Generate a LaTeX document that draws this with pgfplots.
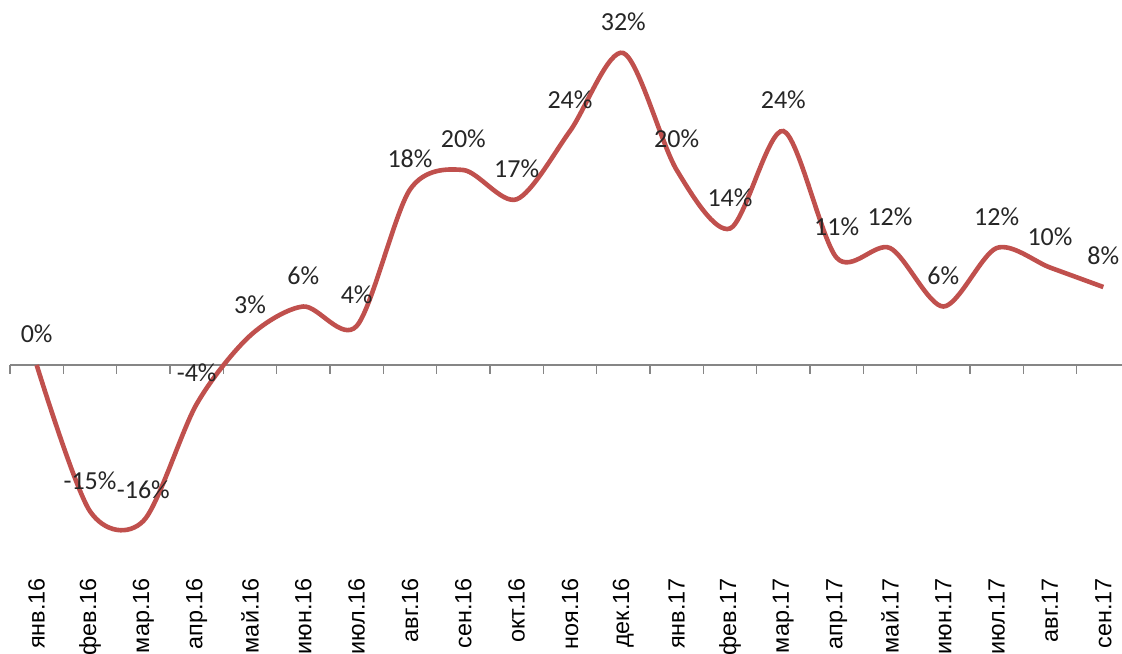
\documentclass[border=0pt]{standalone}
\usepackage{pgfplots}
\pgfplotsset{compat=1.18}
\usepackage{fontspec}
\setmainfont{Liberation Sans}
\newfontfamily\carlito{Carlito}
\definecolor{linered}{RGB}{192,80,77}
\definecolor{axgray}{RGB}{134,134,134}
\begin{document}
\begin{tikzpicture}
\path[use as bounding box] (0,-42.5pt) rectangle (561pt,284pt);
\clip (0,-42.5pt) rectangle (561pt,284pt);
\begin{axis}[
  at={(5pt,0pt)}, anchor=south west,
  scale only axis, width=556pt, height=284pt,
  xmin=-0.5, xmax=20.35, ymin=-20.82, ymax=37.44,
  axis line style={draw=none},
  tick style={draw=none},
  ytick=\empty,
  xtick={0,...,20},
  xticklabels={янв.16,фев.16,мар.16,апр.16,май.16,июн.16,июл.16,авг.16,сен.16,окт.16,ноя.16,дек.16,янв.17,фев.17,мар.17,апр.17,май.17,июн.17,июл.17,авг.17,сен.17},
  xticklabel style={rotate=90, anchor=east, font=\fontsize{11.7}{13}\selectfont, inner sep=0pt},
  xticklabel shift=5pt,
  clip=false,
  point meta=explicit symbolic,
  nodes near coords={\pgfplotspointmeta\%},
  every node near coord/.append style={font=\carlito\fontsize{13}{15}\selectfont, anchor=center, yshift=15.5pt, text=black!85},
]
\draw[axgray, line width=0.75pt] (axis cs:-0.5,0) -- (axis cs:20.35,0);
\pgfplotsinvokeforeach{-0.5,0.5,...,19.5}{\draw[axgray, line width=0.75pt] (axis cs:#1,0) -- ([yshift=-4.5pt]axis cs:#1,0);}
\addplot[linered, line width=2.3pt, smooth, mark=none] coordinates {
(0,0)[0] (1,-15)[-15] (2,-16)[-16] (3,-4)[-4] (4,3)[3] (5,6)[6] (6,4)[4]
(7,18)[18] (8,20)[20] (9,17)[17] (10,24)[24] (11,32)[32] (12,20)[20]
(13,14)[14] (14,24)[24] (15,11)[11] (16,12)[12] (17,6)[6] (18,12)[12]
(19,10)[10] (20,8)[8]
};
\end{axis}
\end{tikzpicture}
\end{document}
